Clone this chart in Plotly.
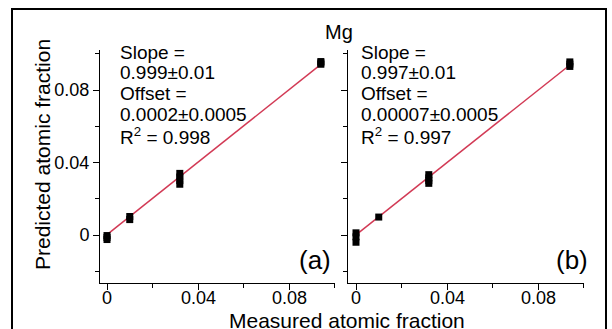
import plotly.graph_objects as go

# ---- data ----
meas_a = [0, 0, 0, 0.01, 0.01, 0.032, 0.032, 0.032, 0.032, 0.094, 0.094, 0.094]
pred_a = [-0.0003, -0.0014, -0.0025, 0.0085, 0.0102, 0.028, 0.030, 0.032, 0.034, 0.0942, 0.0950, 0.0957]
meas_b = [0, 0, 0, 0.01, 0.032, 0.032, 0.032, 0.032, 0.094, 0.094, 0.094]
pred_b = [0.0012, -0.0010, -0.0040, 0.0099, 0.0285, 0.030, 0.0315, 0.0333, 0.0930, 0.0943, 0.0955]
slope_a, offset_a = 0.999, 0.0002
slope_b, offset_b = 0.997, 0.00007
fit_x = [0, 0.094]
stats_a = ["Slope =", "0.999\u00b10.01", "Offset =", "0.0002\u00b10.0005", "R<sup>2</sup> = 0.998"]
stats_b = ["Slope =", "0.997\u00b10.01", "Offset =", "0.00007\u00b10.0005", "R<sup>2</sup> = 0.997"]
tick_vals = [0, 0.04, 0.08]
tick_text = ["0", "0.04", "0.08"]
minor_x = [0.02, 0.06, 0.10]
minor_y = [-0.02, 0.02, 0.06, 0.10]

W, H = 612, 329
FONT = "Liberation Sans, Arial, sans-serif"
RED = "#d23a55"

def px(x):
    return x / W

def py(y):
    return 1 - y / H

fig = go.Figure()
for xa, ya, mx, my, s, o in [("x", "y", meas_a, pred_a, slope_a, offset_a),
                             ("x2", "y2", meas_b, pred_b, slope_b, offset_b)]:
    fig.add_trace(go.Scatter(x=fit_x, y=[s * v + o for v in fit_x], mode="lines",
                             line=dict(color=RED, width=1.5), xaxis=xa, yaxis=ya,
                             showlegend=False, hoverinfo="skip"))
    fig.add_trace(go.Scatter(x=mx, y=my, mode="markers",
                             marker=dict(symbol="square", size=7, color="black"),
                             xaxis=xa, yaxis=ya, showlegend=False))

common_x = dict(showline=True, linecolor="black", linewidth=1, ticks="outside", ticklen=6,
                tickcolor="black", tickwidth=1, tickvals=tick_vals, ticktext=tick_text,
                minor=dict(tickvals=minor_x, ticks="outside", ticklen=4, tickcolor="black"),
                showgrid=False, zeroline=False, showticklabels=False)
common_y = dict(showline=True, linecolor="black", linewidth=1, ticks="outside", ticklen=6,
                tickcolor="black", tickwidth=1, tickvals=tick_vals, ticktext=tick_text,
                minor=dict(tickvals=minor_y, ticks="outside", ticklen=4, tickcolor="black"),
                showgrid=False, zeroline=False, tickfont=dict(family=FONT, size=18, color="black"),
                range=[-0.02648, 0.10207], domain=[py(283), py(50)])

fig.update_layout(
    width=W, height=H, margin=dict(l=0, r=0, t=0, b=0),
    paper_bgcolor="white", plot_bgcolor="white",
    font=dict(family=FONT, color="black"),
    xaxis=dict(common_x, domain=[px(100), px(335)], range=[-0.003077, 0.10022], anchor="y"),
    yaxis=dict(common_y, anchor="x"),
    xaxis2=dict(common_x, domain=[px(348), px(584)], range=[-0.003516, 0.10022], anchor="y2"),
    yaxis2=dict(common_y, anchor="x2", showticklabels=False),
)

ann = []
line_y = [52, 72.5, 93.5, 114, 135.5]
for x0, lines in [(118, stats_a), (359, stats_b)]:
    for ly, t in zip(line_y, lines):
        ann.append(dict(x=px(x0), y=py(ly), xref="paper", yref="paper", text=t, showarrow=False,
                        xanchor="left", yanchor="middle", font=dict(family=FONT, size=19)))
# x tick labels placed on the axes' own scales
for xr in ["x", "x2"]:
    for v, t in zip(tick_vals, tick_text):
        ann.append(dict(x=v, y=py(298), xref=xr, yref="paper", text=t, showarrow=False,
                        xanchor="center", yanchor="middle", font=dict(family=FONT, size=18)))
n_fixed = len(ann)
ann += [
    dict(x=px(315), y=py(260), text="(a)", font=dict(family=FONT, size=26)),
    dict(x=px(572), y=py(260), text="(b)", font=dict(family=FONT, size=26)),
    dict(x=px(339), y=py(32), text="Mg", font=dict(family=FONT, size=20)),
    dict(x=px(42), y=py(155), text="Predicted atomic fraction", textangle=-90,
         font=dict(family=FONT, size=21)),
    dict(x=px(347), y=py(320), text="Measured atomic fraction", font=dict(family=FONT, size=21)),
]
for a in ann[n_fixed:]:
    a.update(xref="paper", yref="paper", showarrow=False, xanchor="center", yanchor="middle")
fig.update_layout(annotations=ann)

fig.add_shape(type="rect", xref="paper", yref="paper", x0=px(12), x1=px(606), y0=py(360), y1=py(9),
              line=dict(color="black", width=2), fillcolor="rgba(0,0,0,0)", layer="above")

fig.write_html("out.html", config={"displayModeBar": False},
               post_script="document.body.style.margin='0';document.body.style.overflow='hidden';")
